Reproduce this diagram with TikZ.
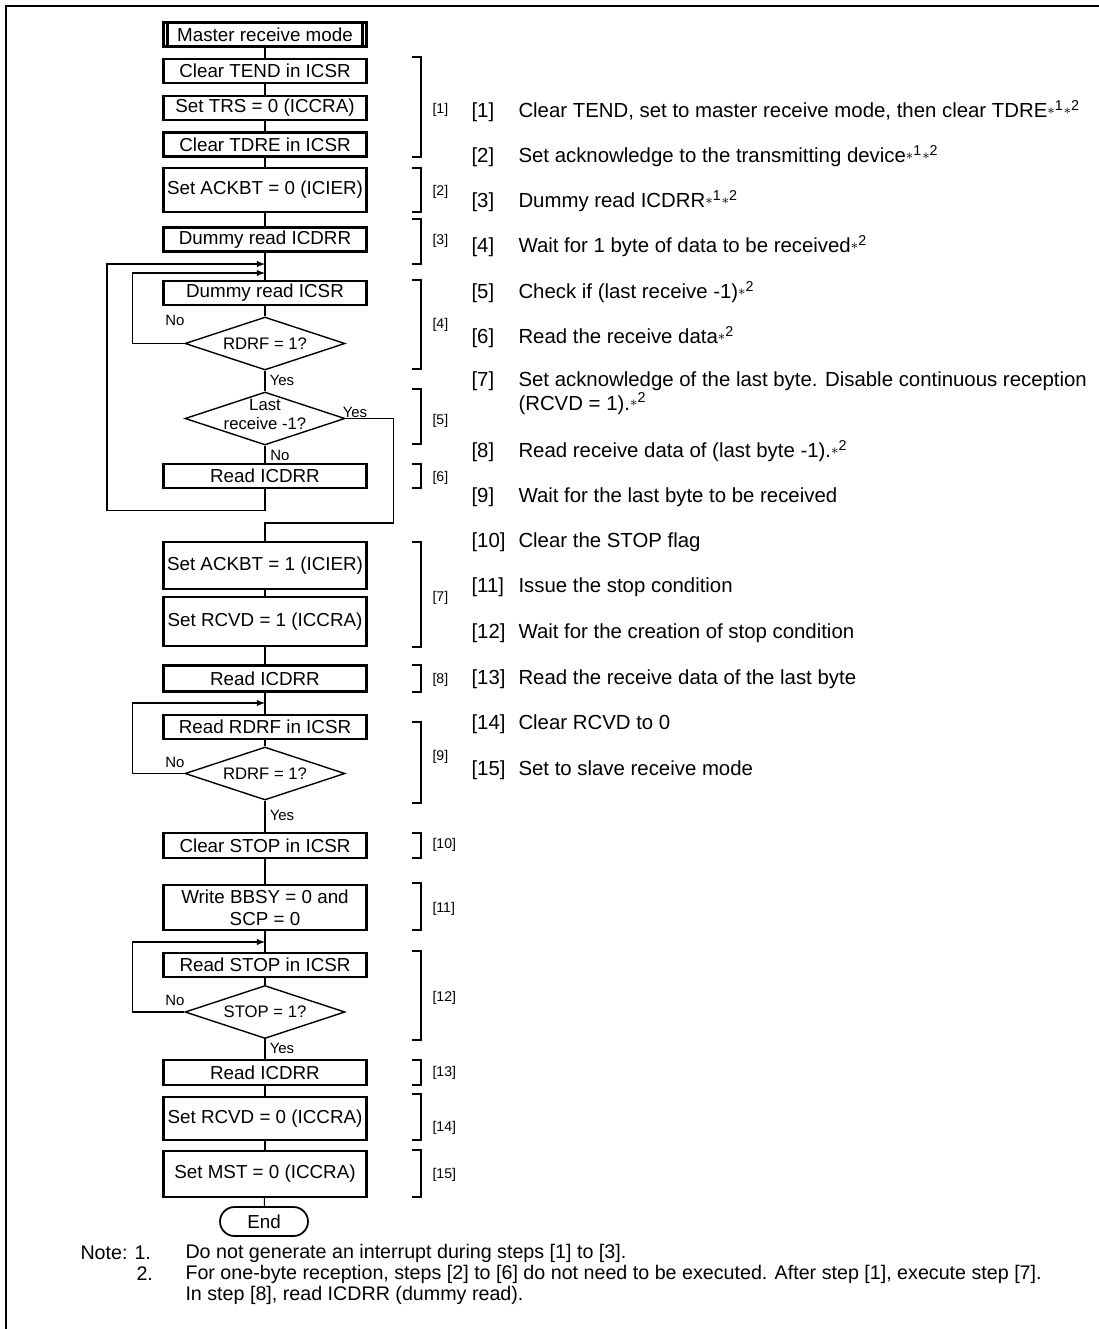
\documentclass[tikz,border=0pt]{standalone}
\usepackage{fontspec}
\setmainfont{Liberation Sans}
\usetikzlibrary{shapes.geometric}
\newcommand{\nt}[1]{{\footnotesize\raisebox{0.45ex}{$\ast$}}\textsuperscript{#1}}
\begin{document}
\begin{tikzpicture}[x=0.02cm,y=-0.02cm,line width=0.6pt,
	box/.style={draw,line width=1.2pt,minimum width=4.06cm,minimum height=0.48cm,inner sep=0pt,font=\fontsize{10.7}{12.7}\selectfont,align=center},
	decision/.style={draw,diamond,line width=0.8pt,minimum width=3.2cm,minimum height=1.06cm,inner sep=0pt},
	dtxt/.style={font=\fontsize{9.5}{10.5}\selectfont,align=center},
	yn/.style={font=\fontsize{8.5}{10}\selectfont},
	brk/.style={font=\fontsize{8}{10}\selectfont,anchor=west,inner sep=0pt},
	item/.style={font=\fontsize{11.6}{13.5}\selectfont,anchor=west,inner sep=0pt,align=left},
	note/.style={item,font=\fontsize{11.2}{13}\selectfont}]
	\useasboundingbox (0,0) rectangle (1099,1329);
	\draw[line width=1.7pt](6,1329)--(6,6)--(1099,6);
	% flow
	\node[box] (mrm) at (265,34.5) {Master receive mode};
	\draw[line width=1.2pt]([xshift=0.1cm]mrm.north west)--([xshift=0.1cm]mrm.south west);
	\draw[line width=1.2pt]([xshift=-0.1cm]mrm.north east)--([xshift=-0.1cm]mrm.south east);
	\node[box] (ctend) at (265,71) {Clear TEND in ICSR};
	\node[box] (trs) at (265,108) {Set TRS = 0 (ICCRA)};
	\node[box] (tdre) at (265,144.5) {Clear TDRE in ICSR};
	\node[box,minimum height=0.88cm] (ack0) at (265,190) {Set ACKBT = 0 (ICIER)};
	\node[box] (dicdrr) at (265,239.5) {Dummy read ICDRR};
	\node[box] (dicsr) at (265,293) {Dummy read ICSR};
	\node[decision,label={[dtxt]center:RDRF = 1?}] (rdrf1) at (265,343.5) {};
	\node[decision,label={[dtxt,yshift=0.08cm]center:Last\\receive -1?}] (last1) at (265,418.5) {};
	\node[box] (ricdrr1) at (265,476) {Read ICDRR};
	\node[box,minimum height=0.95cm] (ack1) at (265,565.5) {Set ACKBT = 1 (ICIER)};
	\node[box,minimum height=0.98cm] (rcvd1) at (265,621.5) {Set RCVD = 1 (ICCRA)};
	\node[box,minimum height=0.52cm] (ricdrr2) at (265,678.5) {Read ICDRR};
	\node[box] (rrdrf) at (265,727) {Read RDRF in ICSR};
	\node[decision,label={[dtxt]center:RDRF = 1?}] (rdrf2) at (265,773.5) {};
	\node[box,minimum height=0.5cm] (cstop) at (265,845.5) {Clear STOP in ICSR};
	\node[box,minimum height=0.9cm] (wbbsy) at (265,907.5) {Write BBSY = 0 and\\SCP = 0};
	\node[box] (rstop) at (265,965) {Read STOP in ICSR};
	\node[decision,label={[dtxt]center:STOP = 1?}] (stop1) at (265,1012) {};
	\node[box,minimum height=0.5cm] (ricdrr3) at (265,1072.5) {Read ICDRR};
	\node[box,minimum height=0.86cm] (rcvd0) at (265,1118.5) {Set RCVD = 0 (ICCRA)};
	\node[box,minimum height=0.92cm] (mst0) at (265,1174) {Set MST = 0 (ICCRA)};
	\node[draw,line width=1pt,rounded corners=0.29cm,minimum width=1.76cm,minimum height=0.58cm,font=\fontsize{10.7}{12.7}\selectfont] (end) at (264,1221.5) {End};
	% connectors
	\foreach \a/\b in {mrm/ctend,ctend/trs,trs/tdre,tdre/ack0,ack0/dicdrr,dicdrr/dicsr,dicsr/rdrf1,rdrf1/last1,last1/ricdrr1,ack1/rcvd1,rcvd1/ricdrr2,ricdrr2/rrdrf,rrdrf/rdrf2,rdrf2/cstop,cstop/wbbsy,wbbsy/rstop,rstop/stop1,stop1/ricdrr3,ricdrr3/rcvd0,rcvd0/mst0,mst0/end}
		\draw(\a)--(\b);
	\coordinate (in2) at (265,264);
	\coordinate (in1) at (265,273);
	\coordinate (jn1) at (265,523);
	\coordinate (in3) at (265,703);
	\coordinate (in4) at (265,942);
	\draw[->,>=latex](rdrf1.west)--++(-52,0)|-(in1);
	\draw[->,>=latex](ricdrr1.south)--++(0,21)--++(-158,0)|-(in2);
	\draw(last1.east)--++(48,0)|-(jn1)--(ack1);
	\draw[->,>=latex](rdrf2.west)--++(-52,0)|-(in3);
	\draw[->,>=latex](stop1.west)--++(-52,0)|-(in4);
	% yes / no
	\node[yn] at (175,320) {No};
	\node[yn] at (282,380) {Yes};
	\node[yn] at (355,412) {Yes};
	\node[yn] at (280,455) {No};
	\node[yn] at (175,762) {No};
	\node[yn] at (282,815) {Yes};
	\node[yn] at (175,1000) {No};
	\node[yn] at (282,1048) {Yes};
	% brackets
	\foreach \t/\b/\l/\n in {57/157/110/1,168/212/192/2,219/264/241/3,280/369/325/4,389/444/421/5,464/488/478/6,542/647/598/7,665/692/680/8,722/803/757/9,833/858/845/10,883/930/909/11,951/1040/998/12,1060/1085/1073/13,1094/1140/1128/14,1150/1197/1175/15}
	{
		\draw(412,\t)-|(421,\b)--(412,\b);
		\node[brk] at (432,\l) {[\n]};
	}
	% step list
	\node[item] (s1) at (471,111) {\makebox[0.94cm][l]{[1]}Clear TEND, set to master receive mode, then clear TDRE\nt{1}\nt{2}};
	\node[item] (s2) at (471,156) {\makebox[0.94cm][l]{[2]}Set acknowledge to the transmitting device\nt{1}\nt{2}};
	\node[item] (s3) at (471,201) {\makebox[0.94cm][l]{[3]}Dummy read ICDRR\nt{1}\nt{2}};
	\node[item] (s4) at (471,246) {\makebox[0.94cm][l]{[4]}Wait for 1 byte of data to be received\nt{2}};
	\node[item] (s5) at (471,292) {\makebox[0.94cm][l]{[5]}Check if (last receive -1)\nt{2}};
	\node[item] (s6) at (471,337) {\makebox[0.94cm][l]{[6]}Read the receive data\nt{2}};
	\node[item] (s7) at (471,393) {\makebox[0.94cm][l]{[7]}Set acknowledge of the last byte. Disable continuous reception\\\hspace*{0.94cm}(RCVD = 1).\nt{2}};
	\node[item] (s8) at (471,451) {\makebox[0.94cm][l]{[8]}Read receive data of (last byte -1).\nt{2}};
	\node[item] (s9) at (471,497) {\makebox[0.94cm][l]{[9]}Wait for the last byte to be received};
	\node[item] (s10) at (471,542) {\makebox[0.94cm][l]{[10]}Clear the STOP flag};
	\node[item] (s11) at (471,587) {\makebox[0.94cm][l]{[11]}Issue the stop condition};
	\node[item] (s12) at (471,633) {\makebox[0.94cm][l]{[12]}Wait for the creation of stop condition};
	\node[item] (s13) at (471,679) {\makebox[0.94cm][l]{[13]}Read the receive data of the last byte};
	\node[item] (s14) at (471,724) {\makebox[0.94cm][l]{[14]}Clear RCVD to 0};
	\node[item] (s15) at (471,770) {\makebox[0.94cm][l]{[15]}Set to slave receive mode};
	% notes
	\node[note] (nt1) at (80,1253) {Note:\hspace{0.14cm}1.};
	\node[note] (nt2) at (136,1274) {2.};
	\node[note] at (185,1253) {Do not generate an interrupt during steps [1] to [3].};
	\node[note] at (185,1274) {For one-byte reception, steps [2] to [6] do not need to be executed. After step [1], execute step [7].};
	\node[note] at (185,1295) {In step [8], read ICDRR (dummy read).};
\end{tikzpicture}
\end{document}
